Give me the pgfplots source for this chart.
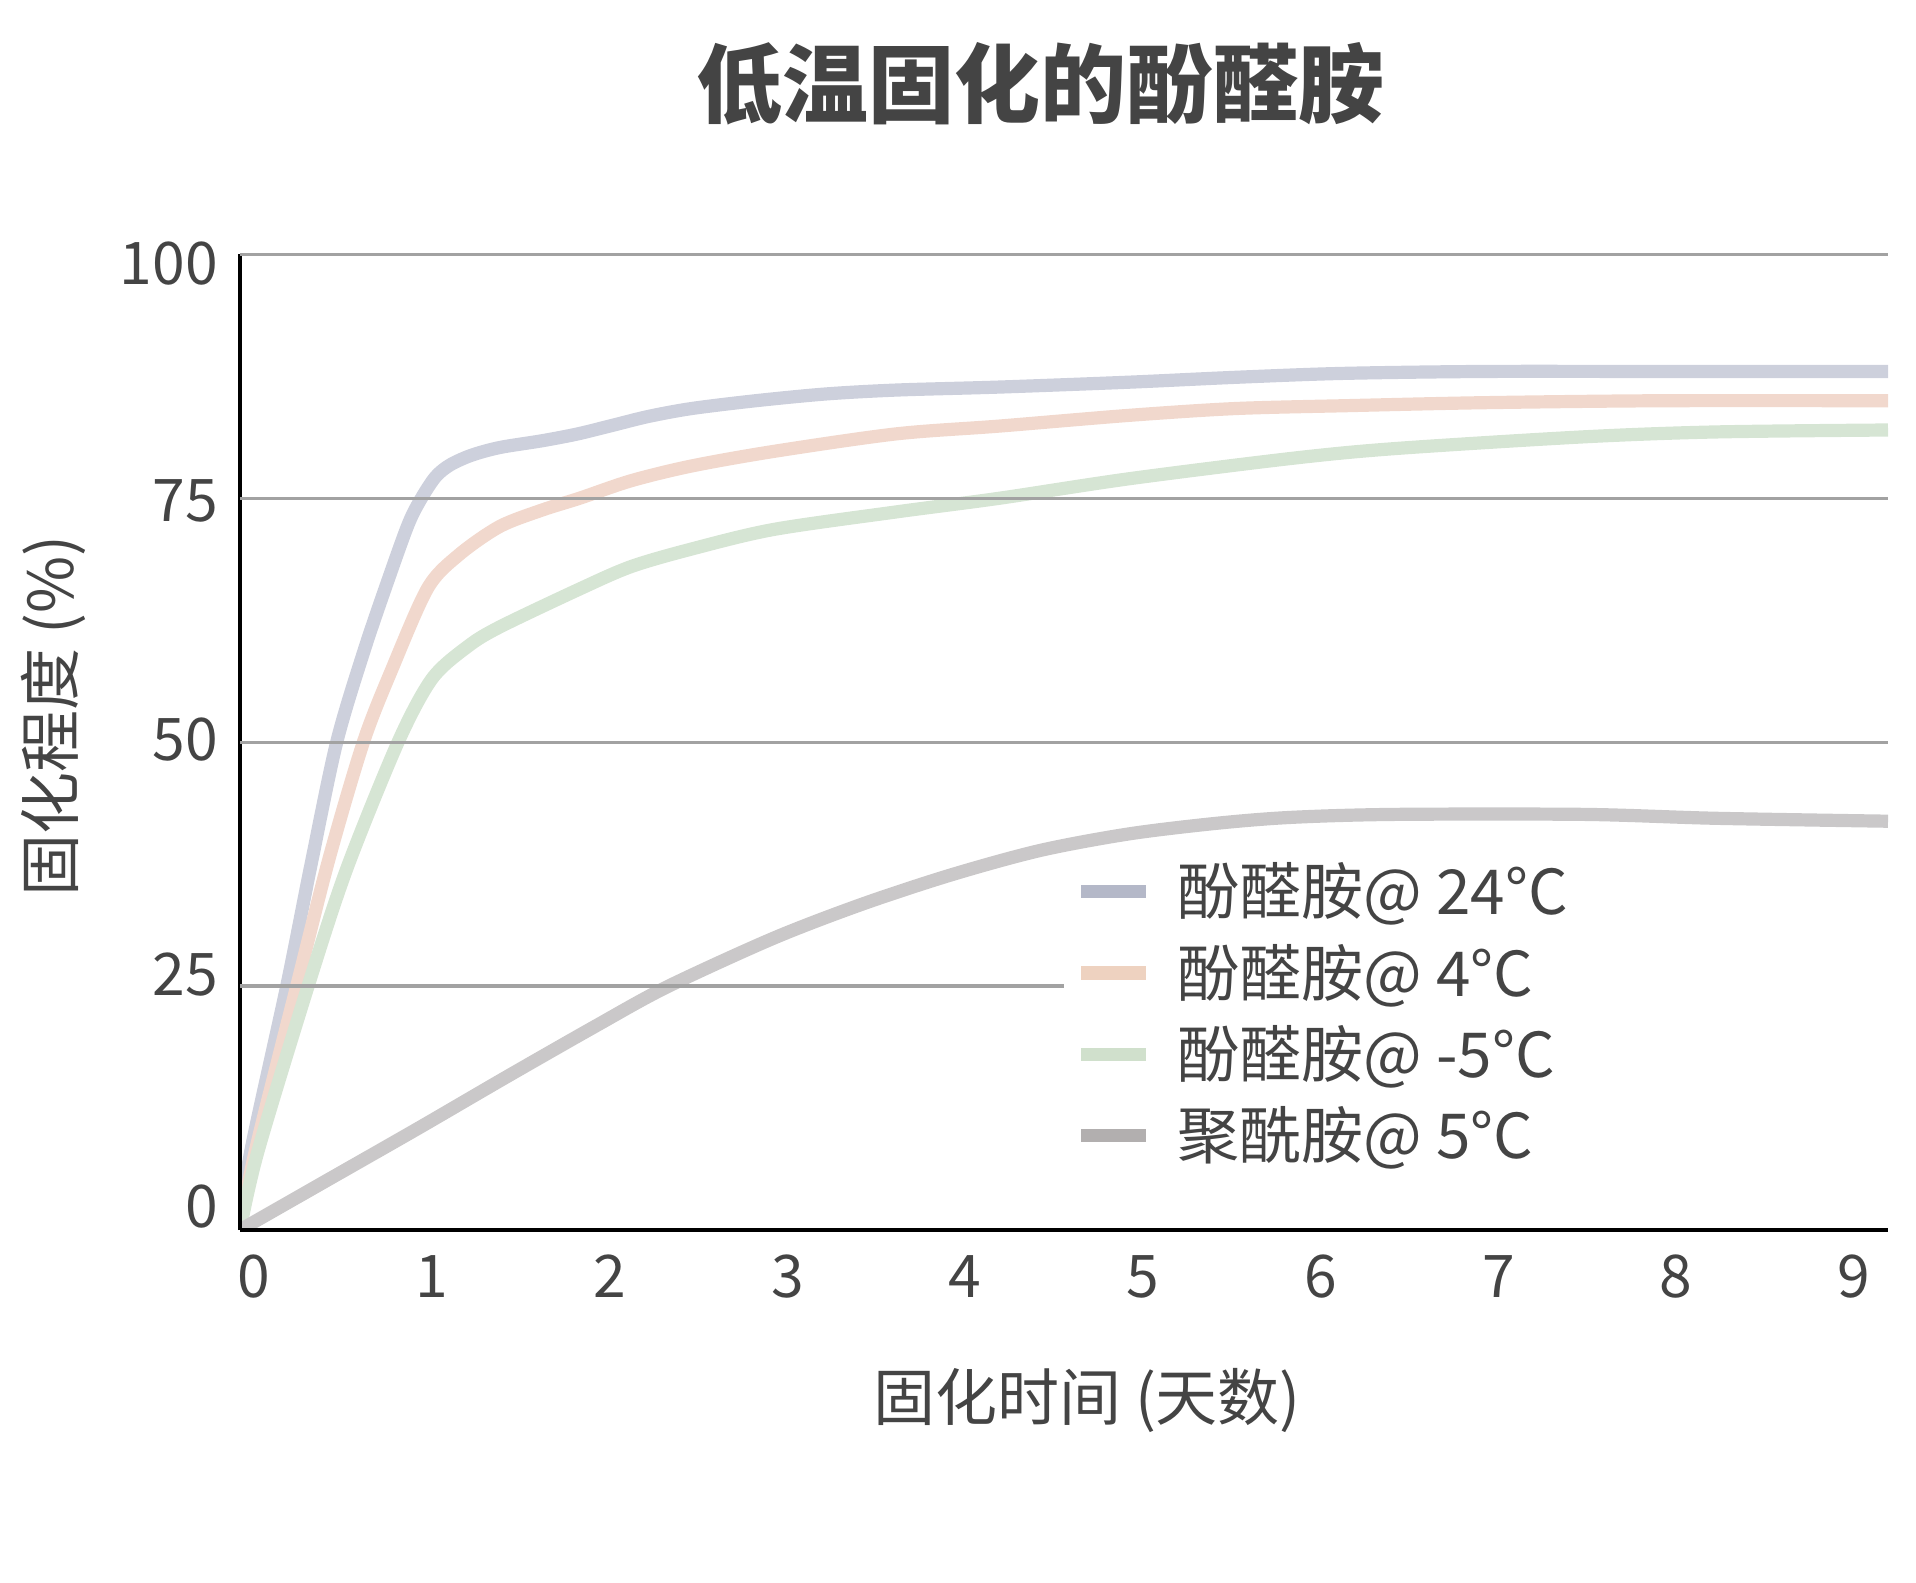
\documentclass[border=0pt]{standalone}
\usepackage{fontspec}
\setmainfont{Noto Sans CJK SC}
\usepackage{pgfplots}
\pgfplotsset{compat=1.18}
\definecolor{txt}{HTML}{444444}
\definecolor{gridc}{HTML}{A2A2A2}
\definecolor{cA}{HTML}{CDD0DC}
\definecolor{cB}{HTML}{F1D8CD}
\definecolor{cC}{HTML}{D6E5D4}
\definecolor{cD}{HTML}{CAC8C9}
\definecolor{sA}{HTML}{B4B8C8}
\definecolor{sB}{HTML}{EED2C0}
\definecolor{sC}{HTML}{D0E0CC}
\definecolor{sD}{HTML}{B2AFAF}
\begin{document}
\begin{tikzpicture}
\begin{axis}[
  name=ax,
  scale only axis,
  width=412pt, height=243.9pt,
  xmin=0, xmax=9.27, ymin=0, ymax=100,
  axis x line*=bottom, axis y line*=left,
  axis line style={black, line width=1.2pt},
  axis on top,
  xtick={0,1,2,3,4,5,6,7,8,9},
  ytick={2.36,26.2,50.3,74.7,99.1},
  yticklabels={0,25,50,75,100},
  extra y ticks={25,50,75,100},
  extra y tick labels={},
  extra y tick style={grid=major},
  major tick length=0pt,
  grid style={color=gridc, line width=0.8pt},
  /pgf/number format/assume math mode=true,
  ticklabel style={font=\fontsize{14.7}{16}\selectfont, text=txt},
  xticklabel style={xshift=3.5pt, yshift=-2.75pt},
  yticklabel style={xshift=-2pt},
  title={\bfseries 低温固化的酚醛胺},
  title style={at={(axis description cs:0.486,1.150)}, anchor=center, font=\fontsize{21.5}{24}\selectfont, text=txt},
  xlabel={固化时间 (天数)},
  xlabel style={at={(axis description cs:0.514,-0.175)}, anchor=center, font=\fontsize{15.5}{18}\selectfont, text=txt},
  ylabel={固化程度 (\%)},
  ylabel style={at={(axis description cs:-0.113,0.527)}, anchor=center, rotate=0, font=\fontsize{15.5}{18}\selectfont, text=txt},
  legend cell align=left,
  legend image code/.code={\draw[#1] (0pt,0pt) -- (16.25pt,0pt);},
  legend style={at={(axis description cs:0.4994,0.3855)}, anchor=north west,
    fill=white, draw=none, inner xsep=2.75pt, inner ysep=0pt,
    row sep=1.8pt, column sep=4.2pt,
    font=\fontsize{15.5}{18}\selectfont, text=txt},
]
\addplot[color=cA, line width=3.3pt, smooth, forget plot] coordinates {
(0,0) (0.06,8) (0.263,25) (0.4,37.5) (0.544,50) (0.7,59.5) (0.85,67.5) (0.95,72.5) (1.02,75) (1.1,77.2) (1.18,78.4) (1.3,79.4) (1.46,80.2) (1.7,80.9) (1.9,81.6) (2.1,82.5) (2.3,83.4) (2.54,84.2) (2.9,85.0) (3.3,85.7) (3.7,86.1) (4.27,86.4) (5.0,86.9) (5.6,87.4) (6.2,87.8) (7,88) (8,88) (9.27,88)
};
\addplot[color=cB, line width=3.3pt, smooth, forget plot] coordinates {
(0,0) (0.085,8) (0.319,25) (0.5,38) (0.694,50) (0.855,57.5) (1.056,65.8) (1.231,69.2) (1.46,72.1) (1.7,73.8) (1.909,75) (2.2,76.8) (2.537,78.3) (3.0,79.8) (3.69,81.6) (4.27,82.4) (5,83.5) (5.6,84.2) (6.24,84.5) (7,84.8) (8,85) (9.27,85)
};
\addplot[color=cC, line width=3.3pt, smooth, forget plot] coordinates {
(0,0) (0.1,8) (0.383,25) (0.6,37) (0.889,50) (1.08,56.5) (1.28,59.8) (1.46,61.8) (1.91,65.7) (2.2,68) (2.54,69.8) (3.0,71.8) (3.69,73.6) (4.27,75) (5,77) (5.92,79.1) (6.5,80.1) (7.56,81.3) (8.3,81.8) (9.27,82)
};
\addplot[color=cD, line width=3.3pt, smooth, forget plot] coordinates {
(0,0) (0.5,5.2) (1,10.4) (1.5,15.7) (2,20.9) (2.4,24.9) (3,29.9) (3.5,33.4) (4,36.4) (4.5,38.9) (5,40.6) (5.5,41.7) (5.92,42.3) (6.5,42.6) (7.56,42.6) (8.3,42.2) (9.27,41.9)
};
\addlegendimage{color=sA, line width=3.3pt}
\addlegendentry{\makebox[180pt][l]{酚醛胺@ 24°C}}
\addlegendimage{color=sB, line width=3.3pt}
\addlegendentry{\makebox[180pt][l]{酚醛胺@ 4°C}}
\addlegendimage{color=sC, line width=3.3pt}
\addlegendentry{\makebox[180pt][l]{酚醛胺@ -5°C}}
\addlegendimage{color=sD, line width=3.3pt}
\addlegendentry{\makebox[180pt][l]{聚酰胺@ 5°C}}
\end{axis}
\pgfresetboundingbox
\path[use as bounding box] ([shift={(-60pt,-88.25pt)}]ax.south west) rectangle ([shift={(419pt,307.5pt)}]ax.south west);
\end{tikzpicture}
\end{document}
